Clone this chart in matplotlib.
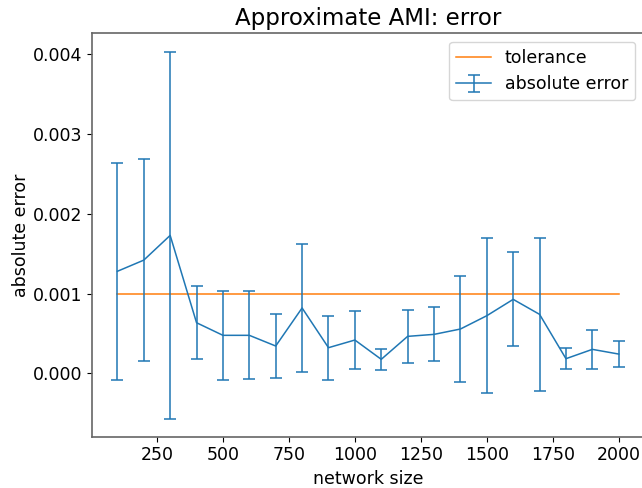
import numpy as np
import matplotlib
matplotlib.use("Agg")
import matplotlib.pyplot as plt

# network sizes and measured absolute errors (mean +/- std)
sizes = [100, 200, 300, 400, 500, 600, 700, 800, 900, 1000,
         1100, 1200, 1300, 1400, 1500, 1600, 1700, 1800, 1900, 2000]
mean_err = [0.00128, 0.00142, 0.00173, 0.000635, 0.000477, 0.000477, 0.000343, 0.00082, 0.000322, 0.000418,
            0.000176, 0.000464, 0.000489, 0.000556, 0.000723, 0.000928, 0.00074, 0.000184, 0.000301, 0.000242]
std_err = [0.00136, 0.00127, 0.0023, 0.00046, 0.00056, 0.00055, 0.0004, 0.0008, 0.0004, 0.00036,
           0.00013, 0.00033, 0.00034, 0.00067, 0.00097, 0.00059, 0.00096, 0.00013, 0.00024, 0.00016]
tolerance = 0.001

fig = plt.figure(figsize=(6.42, 4.88), dpi=100)
ax = fig.add_axes([0.1438, 0.105, 0.859, 0.827])

ax.plot([sizes[0], sizes[-1]], [tolerance, tolerance], color='C1', lw=1.1, label='tolerance')
ax.errorbar(sizes, mean_err, yerr=std_err, color='C0', lw=1.1, capsize=4,
            elinewidth=1.1, capthick=1.1, label='absolute error')

ax.set_ylim(-0.000795, 0.004266)
ax.set_title('Approximate AMI: error', fontsize=16.5)
ax.set_xlabel('network size', fontsize=12.5)
ax.set_ylabel('absolute error', fontsize=12.5, labelpad=2.5)
ax.tick_params(labelsize=12.5)
for s in ax.spines.values():
    s.set_color('#666666')
    s.set_linewidth(1.2)

ax.legend(loc='upper right', fontsize=12.5)

fig.savefig('out.png', dpi=100)
